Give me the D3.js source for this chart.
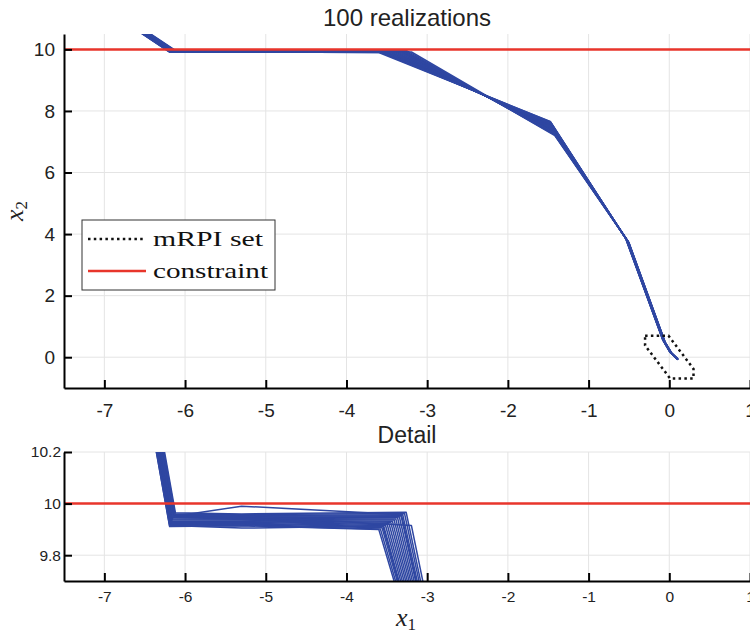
<!DOCTYPE html>
<html>
<head>
<meta charset="utf-8">
<script src="https://cdn.jsdelivr.net/npm/d3@7"></script>
<style>
  body { margin: 0; background: #fff; }
  svg { display: block; }
</style>
</head>
<body>
<div id="chart"></div>
<script>
// tick values
const xTicks = [-7, -6, -5, -4, -3, -2, -1, 0, 1];
const topYTicks = [0, 2, 4, 6, 8, 10];
const detailYTicks = [9.8, 10, 10.2];

// state constraint x2 <= 10
const constraintX2 = 10;

// mRPI set vertices
const mrpiX1 = [-0.30, -0.01, 0.30, 0.30, 0.01, -0.30];
const mrpiX2 = [0.70, 0.70, -0.38, -0.69, -0.69, 0.38];

// a sample of the closed loop realizations, one row per run, one column per time step
const runsX1 = [
  [-6.555, -6.190, -5.300, -3.580, -1.470, -0.540, -0.080, 0.010, 0.100],
  [-6.547, -6.185, -5.305, -3.559, -1.467, -0.537, -0.078, 0.011, 0.101],
  [-6.542, -6.181, -5.298, -3.537, -1.463, -0.535, -0.076, 0.013, 0.101],
  [-6.534, -6.176, -5.302, -3.516, -1.460, -0.532, -0.074, 0.014, 0.102],
  [-6.528, -6.171, -5.296, -3.495, -1.457, -0.529, -0.072, 0.015, 0.103],
  [-6.521, -6.167, -5.301, -3.473, -1.453, -0.527, -0.070, 0.017, 0.103],
  [-6.515, -6.162, -5.299, -3.452, -1.450, -0.524, -0.068, 0.018, 0.104],
  [-6.507, -6.157, -5.303, -3.431, -1.447, -0.521, -0.066, 0.019, 0.105],
  [-6.502, -6.153, -5.297, -3.409, -1.443, -0.519, -0.064, 0.021, 0.105],
  [-6.494, -6.148, -5.300, -3.388, -1.440, -0.516, -0.062, 0.022, 0.106],
  [-6.488, -6.143, -5.304, -3.367, -1.437, -0.513, -0.060, 0.023, 0.107],
  [-6.481, -6.139, -5.298, -3.345, -1.433, -0.511, -0.058, 0.025, 0.107],
  [-6.475, -6.134, -5.301, -3.324, -1.430, -0.508, -0.056, 0.026, 0.108],
  [-6.467, -6.129, -5.299, -3.303, -1.427, -0.505, -0.054, 0.027, 0.109],
  [-6.462, -6.125, -5.302, -3.281, -1.423, -0.503, -0.052, 0.029, 0.109],
  [-6.454, -6.120, -5.300, -3.260, -1.420, -0.500, -0.050, 0.030, 0.110],
  [-6.493, -6.150, -5.300, -3.320, -1.432, -0.510, -0.058, 0.024, 0.106],
  [-6.550, -6.186, -5.300, -3.550, -1.465, -0.536, -0.077, 0.012, 0.101],
  [-6.468, -6.130, -5.310, -3.195, -1.418, -0.500, -0.050, 0.030, 0.110],
  [-6.556, -6.191, -5.300, -3.600, -1.475, -0.542, -0.081, 0.009, 0.100]
];
const runsX2 = [
  [10.55, 9.912, 9.915, 9.902, 7.640, 3.860, 0.560, 0.160, -0.050],
  [10.55, 9.916, 9.918, 9.906, 7.612, 3.851, 0.555, 0.158, -0.052],
  [10.55, 9.919, 9.921, 9.911, 7.584, 3.841, 0.549, 0.156, -0.054],
  [10.55, 9.923, 9.924, 9.915, 7.556, 3.832, 0.544, 0.154, -0.056],
  [10.55, 9.926, 9.927, 9.919, 7.528, 3.823, 0.539, 0.152, -0.058],
  [10.55, 9.930, 9.930, 9.923, 7.500, 3.813, 0.533, 0.150, -0.060],
  [10.55, 9.933, 9.933, 9.928, 7.472, 3.804, 0.528, 0.148, -0.062],
  [10.55, 9.937, 9.936, 9.932, 7.444, 3.795, 0.523, 0.146, -0.064],
  [10.55, 9.940, 9.939, 9.936, 7.416, 3.785, 0.517, 0.144, -0.066],
  [10.55, 9.944, 9.942, 9.940, 7.388, 3.776, 0.512, 0.142, -0.068],
  [10.55, 9.947, 9.945, 9.945, 7.360, 3.767, 0.507, 0.140, -0.070],
  [10.55, 9.951, 9.948, 9.949, 7.332, 3.757, 0.501, 0.138, -0.072],
  [10.55, 9.954, 9.951, 9.953, 7.304, 3.748, 0.496, 0.136, -0.074],
  [10.55, 9.958, 9.954, 9.957, 7.276, 3.739, 0.491, 0.134, -0.076],
  [10.55, 9.961, 9.957, 9.962, 7.248, 3.729, 0.485, 0.132, -0.078],
  [10.55, 9.965, 9.960, 9.966, 7.220, 3.720, 0.480, 0.130, -0.080],
  [10.55, 9.950, 9.990, 9.958, 7.300, 3.750, 0.500, 0.138, -0.070],
  [10.55, 9.915, 9.905, 9.913, 7.590, 3.845, 0.552, 0.157, -0.053],
  [10.55, 9.958, 9.952, 9.915, 7.200, 3.715, 0.478, 0.129, -0.081],
  [10.55, 9.911, 9.914, 9.900, 7.660, 3.865, 0.562, 0.161, -0.049]
];

const width = 750;
const height = 635;
const blue = "#2f47a2";
const red = "#e8352b";
const sans = "'Liberation Sans', Arial, sans-serif";
const serif = "'Liberation Serif', 'DejaVu Serif', serif";

const svg = d3.select("#chart")
    .append("svg")
    .attr("width", width)
    .attr("height", height);

const x = d3.scaleLinear().domain([-7.5, 1]).range([64, 750]);
const yTop = d3.scaleLinear().domain([-1, 10.5]).range([388, 34]);
const yDetail = d3.scaleLinear().domain([9.7, 10.2]).range([581, 452]);

const runs = runsX1.map((row, i) => row.map((v, j) => [v, runsX2[i][j]]));
const mrpi = mrpiX1.map((v, i) => [v, mrpiX2[i]]);

function drawPanel(id, y, yTicks, fontSize, xPad, yPad, withSet) {
    const [y0, y1] = y.range();
    const g = svg.append("g");

    g.append("clipPath")
        .attr("id", id)
        .append("rect")
        .attr("x", x.range()[0])
        .attr("y", y1)
        .attr("width", x.range()[1] - x.range()[0])
        .attr("height", y0 - y1);

    // grid
    g.append("g").selectAll("line")
        .data(xTicks)
        .enter()
        .append("line")
        .attr("x1", d => x(d)).attr("x2", d => x(d))
        .attr("y1", y1).attr("y2", y0)
        .style("stroke", "#e4e4e4")
        .style("stroke-width", 1);
    g.append("g").selectAll("line")
        .data(yTicks)
        .enter()
        .append("line")
        .attr("x1", x.range()[0]).attr("x2", x.range()[1])
        .attr("y1", d => y(d)).attr("y2", d => y(d))
        .style("stroke", "#e4e4e4")
        .style("stroke-width", 1);

    const plot = g.append("g").attr("clip-path", `url(#${id})`);
    const line = d3.line().x(d => x(d[0])).y(d => y(d[1]));

    plot.selectAll("path.run")
        .data(runs)
        .enter()
        .append("path")
        .attr("class", "run")
        .attr("d", line)
        .attr("fill", "none")
        .style("stroke", blue)
        .style("stroke-width", 1.5)
        .style("stroke-linejoin", "round");

    plot.append("line")
        .attr("x1", x.range()[0]).attr("x2", x.range()[1])
        .attr("y1", y(constraintX2)).attr("y2", y(constraintX2))
        .style("stroke", red)
        .style("stroke-width", 2.5);

    if (withSet) {
        plot.append("path")
            .datum(mrpi)
            .attr("d", d3.line().x(d => x(d[0])).y(d => y(d[1])).curve(d3.curveLinearClosed))
            .attr("fill", "none")
            .style("stroke", "#111")
            .style("stroke-width", 2.5)
            .style("stroke-dasharray", "2.5,3.3");
    }

    // axes, ticks pointing inward
    const xAxis = g.append("g")
        .attr("transform", `translate(0,${y0})`)
        .call(d3.axisBottom(x).tickValues(xTicks).tickSizeInner(-8).tickSizeOuter(0).tickPadding(xPad));
    const yAxis = g.append("g")
        .attr("transform", `translate(${x.range()[0]},0)`)
        .call(d3.axisLeft(y).tickValues(yTicks).tickSizeInner(-8).tickSizeOuter(0).tickPadding(yPad));

    [xAxis, yAxis].forEach(a => {
        a.select(".domain").style("stroke", "#000").style("stroke-width", 2);
        a.selectAll(".tick line").style("stroke", "#000").style("stroke-width", 2);
        a.selectAll(".tick text")
            .style("font-family", sans)
            .style("font-size", fontSize + "px")
            .style("fill", "#222")
            .text(d => d3.format("~g")(d).replace("−", "-"));
    });
}

drawPanel("clipTop", yTop, topYTicks, 19, 16, 9, true);
drawPanel("clipDetail", yDetail, detailYTicks, 15.5, 10, 3, false);

// titles
svg.append("text")
    .attr("x", 407).attr("y", 26)
    .attr("text-anchor", "middle")
    .style("font-family", sans)
    .style("font-size", "24px")
    .style("fill", "#222")
    .text("100 realizations");
svg.append("text")
    .attr("x", 407).attr("y", 443)
    .attr("text-anchor", "middle")
    .style("font-family", sans)
    .style("font-size", "23px")
    .style("fill", "#222")
    .text("Detail");

// axis labels
const xl = svg.append("text")
    .attr("x", 406).attr("y", 626)
    .attr("text-anchor", "middle")
    .style("font-family", serif)
    .style("font-size", "26px")
    .style("fill", "#222");
xl.append("tspan").style("font-style", "italic").text("x");
xl.append("tspan").attr("dy", 4).style("font-size", "17px").text("1");

const yl = svg.append("text")
    .attr("transform", "translate(23,211) rotate(-90)")
    .attr("text-anchor", "middle")
    .style("font-family", serif)
    .style("font-size", "26px")
    .style("fill", "#222");
yl.append("tspan").style("font-style", "italic").text("x");
yl.append("tspan").attr("dy", 4).style("font-size", "17px").text("2");

// legend
const legend = svg.append("g");
legend.append("rect")
    .attr("x", 82).attr("y", 220)
    .attr("width", 193).attr("height", 70)
    .attr("fill", "#fff")
    .style("stroke", "#333")
    .style("stroke-width", 1);
legend.append("line")
    .attr("x1", 88).attr("x2", 146).attr("y1", 239).attr("y2", 239)
    .style("stroke", "#111")
    .style("stroke-width", 2.5)
    .style("stroke-dasharray", "2.5,3.3");
legend.append("line")
    .attr("x1", 88).attr("x2", 146).attr("y1", 271).attr("y2", 271)
    .style("stroke", red)
    .style("stroke-width", 2.5);
legend.append("text")
    .attr("x", 153).attr("y", 246)
    .attr("textLength", 110)
    .attr("lengthAdjust", "spacingAndGlyphs")
    .style("font-family", serif)
    .style("font-size", "21px")
    .style("fill", "#111")
    .text("mRPI set");
legend.append("text")
    .attr("x", 153).attr("y", 278)
    .attr("textLength", 115)
    .attr("lengthAdjust", "spacingAndGlyphs")
    .style("font-family", serif)
    .style("font-size", "21px")
    .style("fill", "#111")
    .text("constraint");
</script>
</body>
</html>
